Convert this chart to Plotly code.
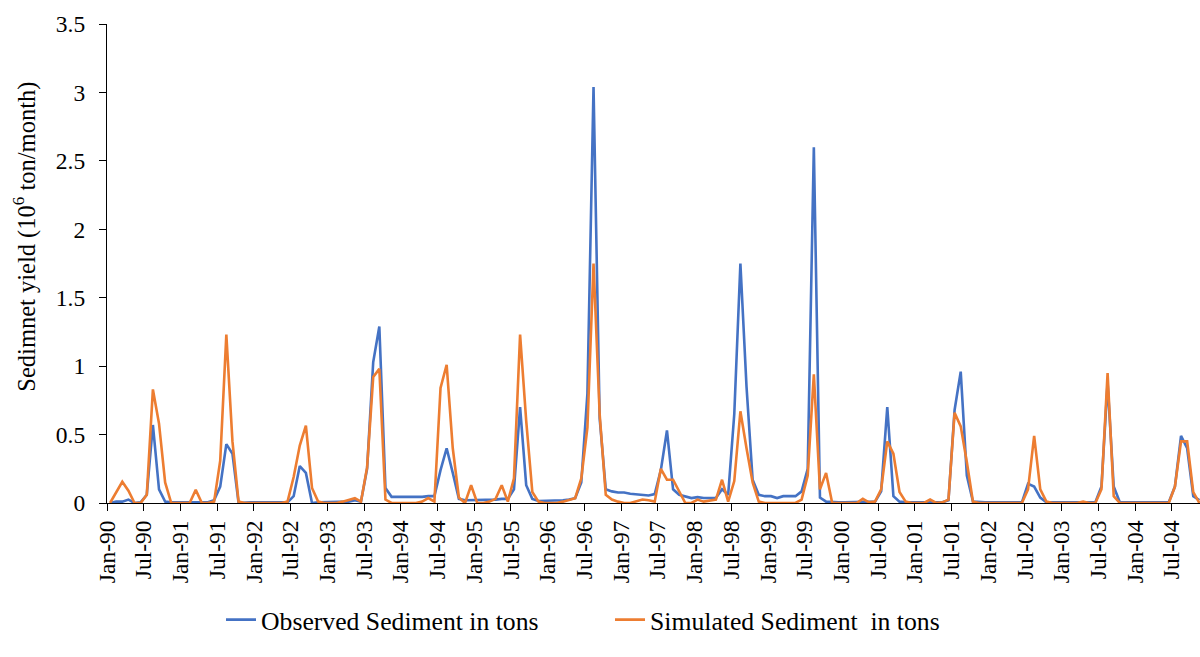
import plotly.graph_objects as go

observed = [
    0.0, 0.01, 0.01, 0.025, 0.0, 0.005, 0.06, 0.57, 0.10, 0.01, 0.005, 0.005,
    0.005, 0.005, 0.005, 0.005, 0.005, 0.02, 0.12, 0.43, 0.36, 0.0, 0.005, 0.005,
    0.005, 0.005, 0.005, 0.005, 0.005, 0.005, 0.05, 0.27, 0.22, 0.0, 0.005, 0.005,
    0.005, 0.005, 0.01, 0.01, 0.02, 0.01, 0.25, 1.03, 1.29, 0.11, 0.045, 0.045,
    0.045, 0.04, 0.045, 0.045, 0.05, 0.05, 0.24, 0.40, 0.22, 0.03, 0.02, 0.02,
    0.02, 0.02, 0.025, 0.025, 0.03, 0.03, 0.10, 0.70, 0.13, 0.03, 0.015, 0.015,
    0.015, 0.02, 0.02, 0.025, 0.035, 0.15, 0.80, 3.04, 0.62, 0.10, 0.085, 0.077,
    0.077, 0.068, 0.065, 0.06, 0.055, 0.065, 0.24, 0.53, 0.10, 0.06, 0.05, 0.036,
    0.043, 0.036, 0.036, 0.036, 0.10, 0.06, 0.65, 1.75, 0.85, 0.17, 0.06, 0.05,
    0.05, 0.036, 0.05, 0.05, 0.05, 0.085, 0.25, 2.60, 0.04, 0.01, 0.005, 0.005,
    0.005, 0.005, 0.005, 0.005, 0.005, 0.01, 0.085, 0.70, 0.05, 0.01, 0.005, 0.005,
    0.005, 0.005, 0.005, 0.005, 0.005, 0.02, 0.68, 0.96, 0.20, 0.01, 0.005, 0.005,
    0.005, 0.005, 0.005, 0.005, 0.005, 0.005, 0.14, 0.12, 0.04, 0.005, 0.005, 0.005,
    0.005, 0.005, 0.005, 0.005, 0.005, 0.005, 0.12, 0.88, 0.12, 0.005, 0.005, 0.005,
    0.005, 0.005, 0.005, 0.005, 0.005, 0.005, 0.12, 0.49, 0.40, 0.05, 0.02,
]

simulated = [
    0.0, 0.08, 0.155, 0.09, 0.0, 0.0, 0.06, 0.83, 0.58, 0.15, 0.0, 0.0,
    0.0, 0.0, 0.096, 0.0, 0.0, 0.01, 0.31, 1.23, 0.45, 0.01, 0.0, 0.0,
    0.0, 0.0, 0.0, 0.0, 0.0, 0.01, 0.19, 0.42, 0.565, 0.11, 0.01, 0.0,
    0.0, 0.0, 0.01, 0.02, 0.035, 0.01, 0.26, 0.92, 0.98, 0.025, 0.0, 0.0,
    0.0, 0.0, 0.0, 0.01, 0.036, 0.01, 0.84, 1.01, 0.40, 0.04, 0.0, 0.13,
    0.0, 0.0, 0.01, 0.03, 0.13, 0.01, 0.18, 1.23, 0.60, 0.08, 0.01, 0.0,
    0.0, 0.0, 0.01, 0.02, 0.035, 0.18, 0.55, 1.75, 0.65, 0.06, 0.025, 0.01,
    0.0, 0.0, 0.01, 0.025, 0.02, 0.01, 0.25, 0.17, 0.17, 0.085, 0.0, 0.0,
    0.025, 0.01, 0.02, 0.025, 0.17, 0.01, 0.16, 0.67, 0.40, 0.15, 0.01, 0.0,
    0.0, 0.0, 0.0, 0.0, 0.0, 0.025, 0.20, 0.94, 0.10, 0.22, 0.0, 0.0,
    0.0, 0.0, 0.0, 0.03, 0.005, 0.01, 0.10, 0.45, 0.36, 0.08, 0.01, 0.0,
    0.0, 0.0, 0.025, 0.0, 0.005, 0.025, 0.66, 0.56, 0.30, 0.01, 0.0, 0.0,
    0.0, 0.0, 0.0, 0.0, 0.0, 0.0, 0.10, 0.49, 0.10, 0.01, 0.0, 0.0,
    0.0, 0.0, 0.0, 0.01, 0.0, 0.0, 0.10, 0.95, 0.05, 0.0, 0.0, 0.0,
    0.0, 0.0, 0.0, 0.0, 0.0, 0.0, 0.12, 0.45, 0.45, 0.08, 0.0,
]

tick_labels = [
    "Jan-90", "Jul-90", "Jan-91", "Jul-91", "Jan-92", "Jul-92", "Jan-93", "Jul-93",
    "Jan-94", "Jul-94", "Jan-95", "Jul-95", "Jan-96", "Jul-96", "Jan-97", "Jul-97",
    "Jan-98", "Jul-98", "Jan-99", "Jul-99", "Jan-00", "Jul-00", "Jan-01", "Jul-01",
    "Jan-02", "Jul-02", "Jan-03", "Jul-03", "Jan-04", "Jul-04",
]

months = list(range(len(observed)))
tick_positions = [k * 6 - 0.5 for k in range(len(tick_labels))]

FONT = "Times New Roman, Liberation Serif, serif"

fig = go.Figure()
fig.add_trace(go.Scatter(
    x=months, y=observed, mode="lines", name="Observed Sediment in tons",
    line=dict(color="#4472C4", width=2.6),
))
fig.add_trace(go.Scatter(
    x=months, y=simulated, mode="lines", name="Simulated Sediment  in tons",
    line=dict(color="#ED7D31", width=2.6),
))

fig.update_layout(
    width=1200, height=657,
    margin=dict(l=107, r=0, t=24, b=154, autoexpand=False),
    paper_bgcolor="white", plot_bgcolor="white",
    font=dict(family=FONT, size=23, color="#000000"),
    showlegend=True,
    legend=dict(
        orientation="h", x=0.1043, y=-0.244, xanchor="left", yanchor="middle",
        font=dict(family=FONT, size=25.7, color="#000000"),
        entrywidth=344, entrywidthmode="pixels",
        bgcolor="rgba(0,0,0,0)",
    ),
    annotations=[dict(
        text="Sedimnet yield (10<sup>6</sup> ton/month)",
        xref="paper", yref="paper", x=-0.0755, y=0.557,
        xanchor="center", yanchor="middle", textangle=-90, showarrow=False,
        font=dict(family=FONT, size=24.5, color="#000000"),
    )],
)

fig.update_xaxes(
    range=[-0.5, 178.1], automargin=False,
    tickmode="array", tickvals=tick_positions, ticktext=tick_labels,
    tickangle=-90, ticks="outside", ticklen=7, tickcolor="#000000",
    showline=True, linecolor="#000000", linewidth=1.2,
    showgrid=False, zeroline=False,
    tickfont=dict(family=FONT, size=23.5, color="#000000"),
)
fig.update_yaxes(
    range=[0, 3.5], dtick=0.5, tick0=0, automargin=False,
    ticks="outside", ticklen=7, tickcolor="#000000", ticklabelstandoff=9,
    showline=True, linecolor="#000000", linewidth=1.2,
    showgrid=False, zeroline=False,
    tickfont=dict(family=FONT, size=23.5, color="#000000"),
)

fig.write_html(
    "out.html",
    config={"displayModeBar": False},
    post_script="document.body.style.margin='0';document.body.style.overflow='hidden';",
)
